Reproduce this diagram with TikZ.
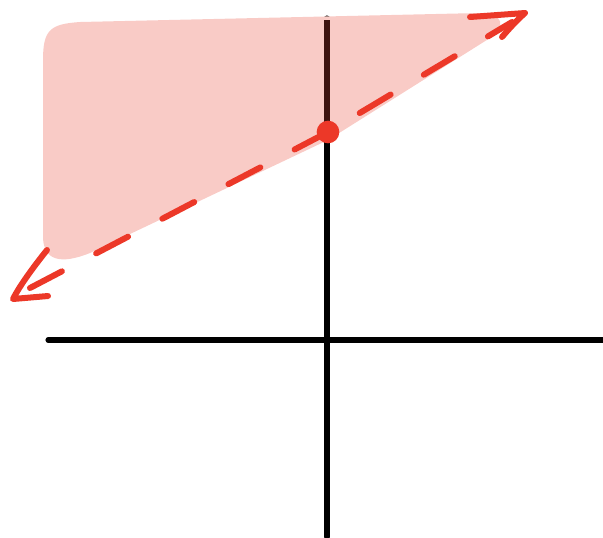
\documentclass[tikz,border=0pt]{standalone}
\definecolor{pinkfill}{RGB}{249,203,198}
\definecolor{redline}{RGB}{236,56,40}
\definecolor{darkax}{RGB}{62,20,16}
\tikzset{
  axis/.style={line width=3.8pt, line cap=round, black},
  bound/.style={line width=4.5pt, line cap=round, redline, dash pattern=on 27pt off 29pt},
  barb/.style={line width=4.5pt, line cap=round, line join=round, redline},
}
\begin{document}
\begin{tikzpicture}[x=0.75pt,y=-0.75pt]
\useasboundingbox (0,0) rectangle (603,537);
% axes
\draw[axis] (48,340) -- (603,340);
\draw[axis] (327,18) -- (327,537);
% shaded half-plane
\fill[pinkfill] (43,60) .. controls (43,30) and (50,24) .. (80,22)
  -- (480,13) .. controls (505,14) and (505,26) .. (490,38)
  -- (328,140) -- (90,253) .. controls (60,265) and (44,260) .. (43,238) -- cycle;
% axis seen through the shading
\draw[line width=3.8pt, darkax] (327,20) -- (327,132);
% boundary line
\coordinate (lo) at (30,288);
\coordinate (p) at (328,132);
\coordinate (hi) at (512,22);
\draw[bound] (lo) -- (p) -- (hi);
% arrowheads
\coordinate (tipL) at (13,299);
\draw[barb] (47,250) .. controls (35,265) and (20,285) .. (tipL) -- (48,296);
\coordinate (tipU) at (525,13);
\draw[barb] (470,17) -- (tipU) .. controls (515,22) and (508,30) .. (502,37);
% point on the y-axis
\fill[redline] (p) circle (8.5pt);
\end{tikzpicture}
\end{document}
